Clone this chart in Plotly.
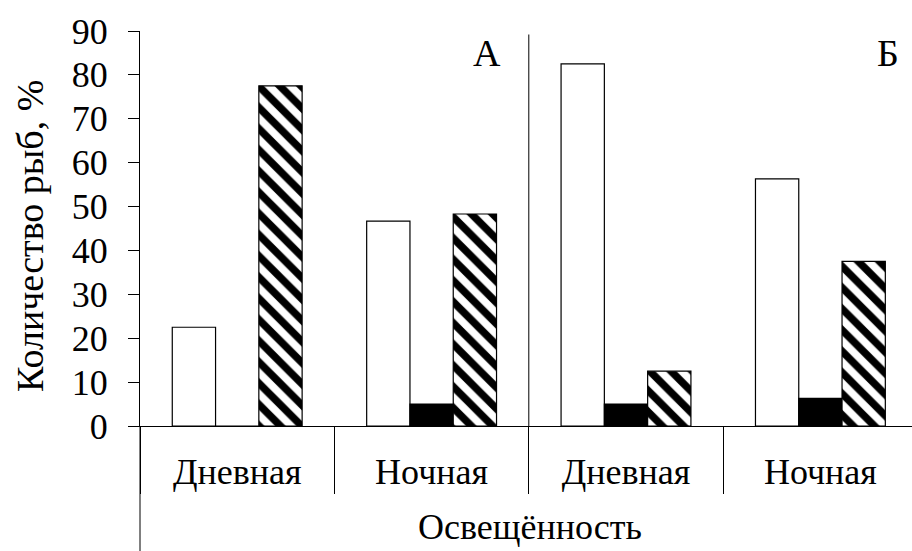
import plotly.graph_objects as go

# Light regime per group (panels А and Б, two groups each)
categories = ["Дневная", "Ночная", "Дневная", "Ночная"]
open_vals = [22.5, 46.7, 82.5, 56.3]
solid_vals = [0.0, 5.0, 5.0, 6.3]
hatched_vals = [77.5, 48.3, 12.5, 37.5]
y_ticks = [0, 10, 20, 30, 40, 50, 60, 70, 80, 90]
panel_labels = ["А", "Б"]
x_title = "Освещённость"
y_title = "Количество рыб, %"

FONT = "Liberation Serif"
idx = list(range(len(categories)))
line = dict(color="black", width=1.2)

fig = go.Figure()
fig.add_trace(go.Bar(x=idx, y=open_vals, marker=dict(color="white", line=line),
                     showlegend=False))
fig.add_trace(go.Bar(x=idx, y=solid_vals, marker=dict(color="black", line=line),
                     showlegend=False))
fig.add_trace(go.Bar(x=idx, y=hatched_vals,
                     marker=dict(color="white", line=line,
                                 pattern=dict(shape="\\", size=15, solidity=0.5,
                                              fgcolor="black", fgopacity=1,
                                              bgcolor="white")),
                     showlegend=False))

W, H = 912, 551
M_L, M_T, M_B = 140, 31, 125
plot_w = W - M_L
plot_h = H - M_T - M_B
group_px = 194.4
x_max = -0.5 + plot_w / group_px

fig.update_layout(
    width=W, height=H,
    margin=dict(l=M_L, r=0, t=M_T, b=M_B),
    plot_bgcolor="white", paper_bgcolor="white",
    barmode="group", bargap=0.332, bargroupgap=0,
    font=dict(family=FONT, size=36, color="black"),
    xaxis=dict(
        range=[-0.5, x_max], tickmode="array", tickvals=idx, ticktext=categories,
        ticks="outside", ticklen=14, tickcolor="rgba(0,0,0,0)",
        showline=True, linecolor="black", linewidth=1, showgrid=False, zeroline=False,
        automargin=False,
        tickfont=dict(family=FONT, size=36),
        minor=dict(tickmode="array", tickvals=[i - 0.5 for i in range(len(categories) + 1)],
                   ticks="outside", ticklen=67, tickcolor="black", tickwidth=1, showgrid=False),
    ),
    yaxis=dict(
        range=[0, 90], tickmode="array", tickvals=y_ticks,
        ticks="outside", ticklen=11, tickcolor="black", tickwidth=1,
        ticklabelstandoff=13,
        showline=True, linecolor="black", linewidth=1, showgrid=False, zeroline=False,
        automargin=False,
        tickfont=dict(family=FONT, size=36),
    ),
)

# Axis titles, placed in pixels relative to the plot area
fig.add_annotation(text=x_title, xref="paper", yref="paper",
                   x=(530 - M_L) / plot_w, y=(H - M_B - 527) / plot_h,
                   showarrow=False, xanchor="center", yanchor="middle",
                   font=dict(family=FONT, size=36))
fig.add_annotation(text=y_title, xref="paper", yref="paper", textangle=-90,
                   x=(30 - M_L) / plot_w, y=(H - M_B - 236) / plot_h,
                   showarrow=False, xanchor="center", yanchor="middle",
                   font=dict(family=FONT, size=38))

# Left boundary of the outer category level, down to the page edge
fig.add_shape(type="line", xref="x domain", yref="paper", x0=0, x1=0, y0=0, y1=-1,
              line=dict(color="black", width=1))
# Divider between panels А and Б
fig.add_shape(type="line", xref="x", yref="y", x0=1.5, x1=1.5, y0=0, y1=89.2,
              line=dict(color="black", width=1))

for label, xpos in zip(panel_labels, [1.284, 3.349]):
    fig.add_annotation(text=label, x=xpos, y=84.9, xref="x", yref="y",
                       showarrow=False, xanchor="center", yanchor="middle",
                       font=dict(family=FONT, size=38))

fig.write_html("out.html")
